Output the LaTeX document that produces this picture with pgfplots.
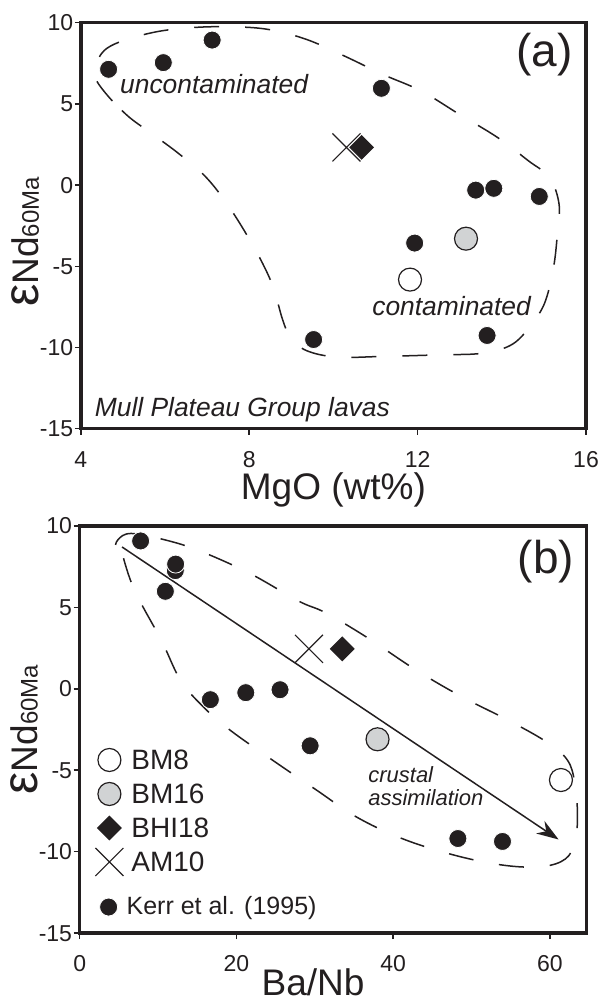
\documentclass[border=0pt]{standalone}
\usepackage{fontspec}
\setmainfont{Liberation Sans}
\usepackage{pgfplots}
\pgfplotsset{compat=1.18}
\usetikzlibrary{arrows.meta}
\definecolor{ink}{HTML}{231F20}
\definecolor{fillgray}{HTML}{D1D3D4}

\tikzset{
  lbl/.style={anchor=base west, inner sep=0pt, text=ink, font=\fontsize{26.4bp}{30bp}\selectfont\itshape},
  smlbl/.style={anchor=base west, inner sep=0pt, text=ink, font=\fontsize{22bp}{25bp}\selectfont\itshape},
}
\pgfplotsset{
  myaxis/.style={
    scale only axis,
    axis line style={line width=3.5bp, ink},
    tick align=outside,
    major tick length=6bp,
    tick style={line width=1.5bp, ink},
    xtick pos=bottom, ytick pos=left,
    ymin=-15, ymax=10, ytick={-15,-10,...,10},
    /pgf/number format/assume math mode=true,
    tick label style={font=\fontsize{23bp}{27bp}\selectfont, text=ink},
    yticklabel style={inner xsep=1.5bp},
    xticklabel style={yshift=-13bp},
    clip=false,
    every axis x label/.style={at={(axis description cs:0.5,0)}, anchor=base, yshift=-71bp, font=\fontsize{37bp}{44bp}\selectfont, text=ink},
    every axis y label/.style={at={([xshift=-42bp]axis description cs:0,0.46)}, rotate=90, anchor=base, text=ink},
    ylabel={{\fontsize{50bp}{50bp}\selectfont ε}{\fontsize{37bp}{44bp}\selectfont Nd}{\fontsize{24bp}{28bp}\selectfont 60Ma}},
  },
  blk/.style={only marks, mark=*, mark size=9bp, mark options={fill=ink, draw=white, line width=0.8bp}},
  bmeight/.style={only marks, mark=*, mark size=11.5bp, mark options={fill=white, draw=ink, line width=1.2bp}},
  bmsixteen/.style={only marks, mark=*, mark size=11.5bp, mark options={fill=fillgray, draw=ink, line width=1.2bp}},
  bhi/.style={only marks, mark=square*, mark size=8.2bp, mark options={rotate=45, fill=ink, draw=ink, line width=1.2bp}},
  amten/.style={only marks, mark=x, mark size=19.8bp, mark options={draw=ink, line width=1.2bp}},
  envelope/.style={ink, line width=1.5bp, smooth, tension=0.6, dash pattern=on 25bp off 26bp},
}

\begin{document}
\begin{tikzpicture}
\path[use as bounding box] (0,0) rectangle (601bp,1002bp);

% ---------- (a) ----------
\begin{axis}[myaxis,
  at={(80.8bp,573.3bp)}, anchor=south west,
  width=505.2bp, height=406bp,
  xmin=4, xmax=16, xtick={4,8,12,16},
  xlabel={MgO (wt\%)},
]
\addplot[envelope] coordinates {
(4.75,5.18) (4.34,6.62) (4.43,7.85) (4.79,8.67) (5.70,9.39) (6.61,9.69)
(7.53,9.75) (8.44,9.59) (9.35,8.98) (10.26,7.95) (11.17,6.82) (12.08,5.80)
(12.99,4.36) (13.90,2.93) (14.63,1.50) (15.13,0.47) (15.36,-1.17) (15.32,-3.01)
(15.23,-5.06) (15.04,-7.11) (14.77,-8.34) (14.27,-9.77) (13.54,-10.35) (12.54,-10.45)
(11.17,-10.55) (10.08,-10.59) (9.35,-10.18) (8.98,-9.36) (8.80,-8.34) (8.62,-6.70)
(8.44,-5.47) (8.07,-3.63) (7.53,-1.37) (6.98,0.47) (6.34,1.91) (5.70,3.14)
(5.16,4.16) (4.75,5.18)
};
\addplot[blk] coordinates {
(4.66,7.13) (5.96,7.54) (7.12,8.93) (11.14,5.96) (13.38,-0.31) (13.81,-0.20)
(14.89,-0.70) (11.93,-3.57) (9.53,-9.51) (13.65,-9.26)
};
\addplot[bmsixteen] coordinates {(13.15,-3.30)};
\addplot[bmeight] coordinates {(11.82,-5.82)};
\addplot[amten] coordinates {(10.31,2.32)};
\addplot[bhi] coordinates {(10.67,2.32)};
\node[lbl] at (axis cs:4.93,5.67) {uncontaminated};
\node[lbl] at (axis cs:10.92,-8.0) {contaminated};
\node[lbl] at (axis cs:4.33,-14.25) {Mull Plateau Group lavas};
\node[anchor=east, inner sep=0pt, text=ink, font=\fontsize{46bp}{50bp}\selectfont] at (rel axis cs:0.974,0.921) {(a)};
\end{axis}

% ---------- (b) ----------
\begin{axis}[myaxis,
  at={(79.7bp,68.8bp)}, anchor=south west,
  width=506.8bp, height=407.4bp,
  xmin=0, xmax=64.66, xtick={0,20,40,60},
  xlabel={Ba/Nb},
  every axis x label/.append style={xshift=-20bp, yshift=9bp},
  every axis y label/.append style={at={([xshift=-42bp]axis description cs:0,0.50)}},
  legend style={draw=none, fill=none, inner sep=0pt, outer sep=0pt,
    at={(0.031,0.4669)}, anchor=north west,
    nodes={inner sep=0pt, text height=26.5bp, text depth=7.5bp, font=\fontsize{28bp}{32bp}\selectfont, text=ink}},
  legend cell align=left,
  legend image code/.code={\draw[#1] plot coordinates {(0bp,0bp)};},
]
\addplot[envelope, forget plot] coordinates {
(5.59,8.01) (7.05,5.98) (10.45,2.94) (12.88,0.51) (15.79,-1.12) (19.19,-2.54)
(24.54,-4.36) (30.13,-6.19) (35.47,-7.91) (41.55,-9.27) (48.35,-10.28) (54.42,-10.85)
(59.04,-10.91) (61.95,-10.45) (63.17,-9.43) (63.51,-7.81) (63.17,-5.78) (62.20,-4.36)
(59.52,-3.25) (54.66,-1.93) (48.83,-0.51) (43.00,1.12) (36.69,3.14) (31.34,4.67)
(27.94,5.38) (21.62,7.10) (15.31,8.46) (10.93,9.13) (6.56,9.53) (4.86,9.13)
(4.62,8.52) (5.59,8.01)
};
\addplot[ink, line width=1.5bp, -{Stealth[length=22bp, width=15bp]}, forget plot] coordinates {(5.4,8.7) (61.1,-9.25)};
\addplot[blk, forget plot] coordinates {
(7.77,9.07) (12.2,7.25) (12.24,7.65) (10.93,5.98) (16.67,-0.67) (21.19,-0.24)
(25.56,-0.06) (29.4,-3.5) (48.25,-9.19) (53.94,-9.37)
};
\addplot[bmeight] coordinates {(61.4,-5.60)};
\addlegendentry{\hspace{8bp}BM8}
\addplot[bmsixteen] coordinates {(38.0,-3.10)};
\addlegendentry{\hspace{8bp}BM16}
\addplot[bhi] coordinates {(33.5,2.45)};
\addlegendentry{\hspace{8bp}BHI18}
\addplot[amten] coordinates {(29.25,2.45)};
\addlegendentry{\hspace{8bp}AM10}
\node[smlbl] at (axis cs:36.8,-5.73) {crustal};
\node[smlbl] at (axis cs:36.8,-7.16) {assimilation};
\node[anchor=east, inner sep=0pt, text=ink, font=\fontsize{46bp}{50bp}\selectfont] at (rel axis cs:0.976,0.9125) {(b)};
\end{axis}

% overlay axis for the Kerr et al. legend entry
\begin{axis}[
  at={(79.7bp,68.8bp)}, anchor=south west, scale only axis,
  width=506.8bp, height=407.4bp,
  xmin=0, xmax=64.66, ymin=-15, ymax=10, hide axis,
  legend style={draw=none, fill=none, inner sep=0pt, outer sep=0pt,
    at={(0.0393,0.090)}, anchor=north west,
    nodes={inner sep=0pt, text height=18bp, text depth=3bp, font=\fontsize{25bp}{29bp}\selectfont, text=ink}},
  legend cell align=left,
  legend image code/.code={\draw[#1] plot coordinates {(0bp,0bp)};},
]
\addlegendimage{blk}
\addlegendentry{\hspace{9bp}Kerr et al. (1995)}
\end{axis}
\end{tikzpicture}
\end{document}
